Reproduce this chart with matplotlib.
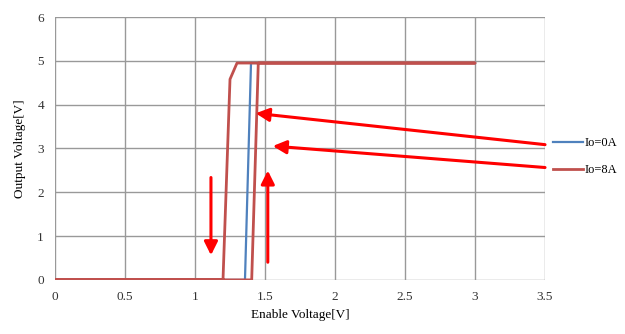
import matplotlib
matplotlib.use('Agg')
import matplotlib.pyplot as plt

# Io=0A trace (rise and fall on the same edge)
x_0a = [0, 1.357, 1.40, 3.0]
y_0a = [0, 0, 4.95, 4.95]

# Io=8A trace: rising edge, then falling edge (hysteresis loop)
x_8a = [0, 1.405, 1.452, 3.0, 1.30, 1.25, 1.20, 0]
y_8a = [0, 0, 4.95, 4.95, 4.95, 4.58, 0, 0]

xticks = [0, 0.5, 1, 1.5, 2, 2.5, 3, 3.5]
yticks = [0, 1, 2, 3, 4, 5, 6]

plt.rcParams['font.family'] = ['Liberation Serif', 'DejaVu Serif']

fig = plt.figure(figsize=(6.25, 3.34), dpi=100)
ax = fig.add_axes([0.088, 0.162, 0.784, 0.787])

ax.plot(x_0a, y_0a, color='#4F81BD', lw=1.6, label='Io=0A', zorder=2)
ax.plot(x_8a, y_8a, color='#C0504D', lw=2.0, label='Io=8A', zorder=3)

ax.set_xlim(0, 3.5)
ax.set_ylim(0, 6)
ax.set_xticks(xticks)
ax.set_xticklabels([f'{t:g}' for t in xticks])
ax.set_yticks(yticks)
ax.grid(True, color='#999999', lw=1.0)
ax.set_axisbelow(True)
for s in ax.spines.values():
    s.set_visible(False)
ax.tick_params(length=0, labelsize=9.5, colors='#333333', pad=8)

ax.set_xlabel('Enable Voltage[V]', fontsize=9.5, labelpad=4)
ax.set_ylabel('Output Voltage[V]', fontsize=9.5, labelpad=8)

# red annotation arrows
arr = dict(arrowstyle='-|>', color='red', lw=2.2, mutation_scale=20)
ax.annotate('', xy=(1.414, 3.81), xytext=(3.52, 3.08), arrowprops=arr, annotation_clip=False)
ax.annotate('', xy=(1.536, 3.06), xytext=(3.52, 2.56), arrowprops=arr, annotation_clip=False)
ax.annotate('', xy=(1.114, 0.50), xytext=(1.114, 2.40), arrowprops=arr)
ax.annotate('', xy=(1.52, 2.56), xytext=(1.52, 0.34), arrowprops=arr)

fig.legend(loc='center left', bbox_to_anchor=(0.866, 0.53), frameon=False,
           fontsize=9, handlelength=2.4, handletextpad=0.2, labelspacing=1.2)

fig.savefig('out.png', dpi=100)
